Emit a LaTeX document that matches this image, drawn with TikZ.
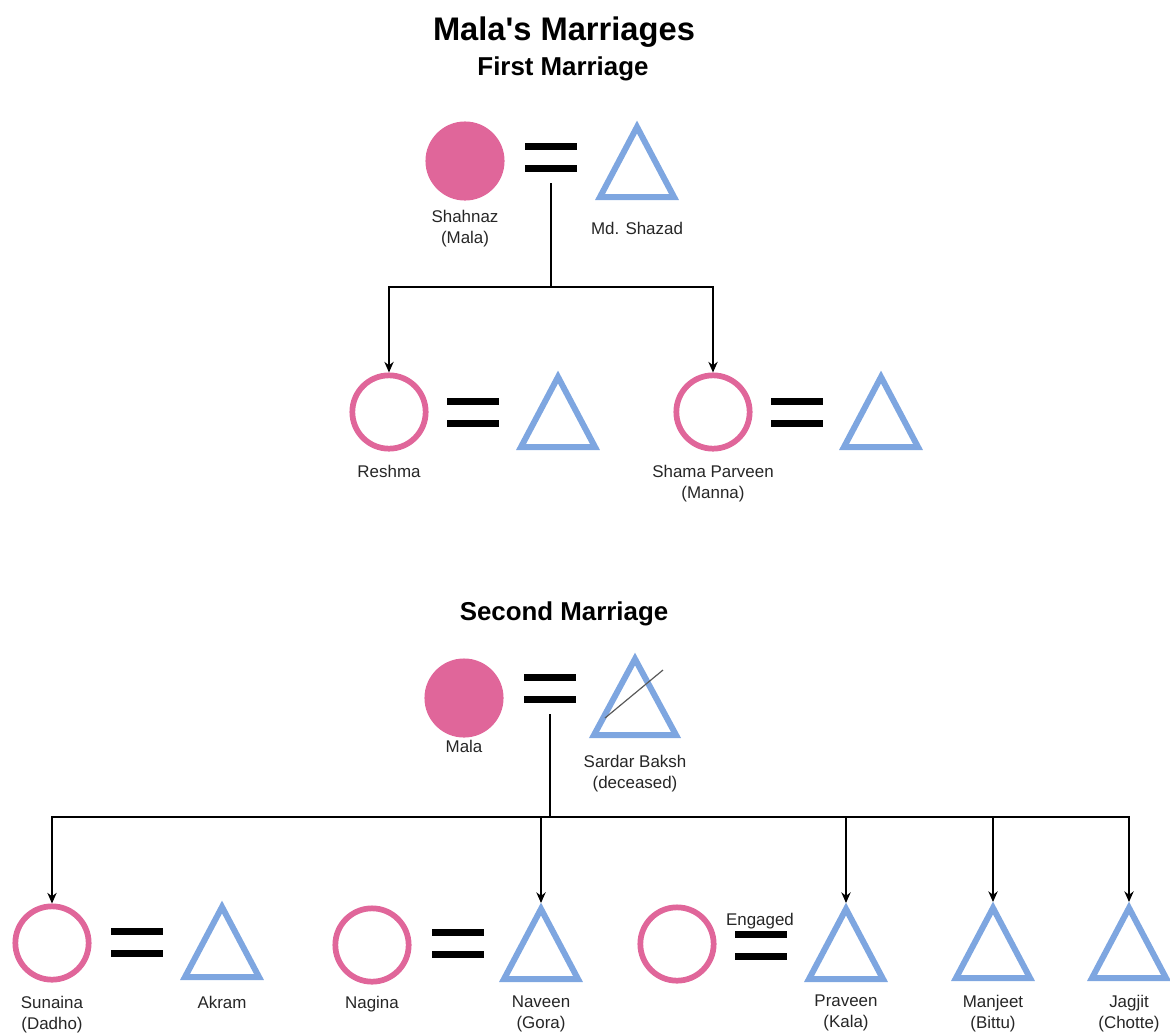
\documentclass[tikz,border=0pt]{standalone}
\usepackage{fontspec}
\setmainfont{Liberation Sans}
\usetikzlibrary{arrows.meta, positioning}

\definecolor{femalepink}{HTML}{E0669A}
\definecolor{maleblue}{HTML}{7EA6E0}

\tikzset{
  female/.style={circle, draw=femalepink, line width=4.3pt, minimum size=55pt, inner sep=0pt},
  wife/.style={female, fill=femalepink},
  male/.style={rectangle, minimum width=55.5pt, minimum height=52.5pt, inner sep=0pt, outer xsep=0pt, outer ysep=4.5pt},
  wed/.style={rectangle, minimum width=39pt, minimum height=16.5pt, inner sep=0pt, outer xsep=0pt, outer ysep=11.5pt},
  who/.style={font=\fontsize{12.7}{15.75}\selectfont, align=center, anchor=north, inner sep=0pt, text=black!85},
  link/.style={-{Stealth[length=8pt,width=7pt]}, line width=1pt},
  bar/.style={line width=5.25pt},
  tri/.style={draw=maleblue, line width=4.5pt, line join=miter},
  slash/.style={draw=black!65, line width=0.9pt}
}

\begin{document}
\begin{tikzpicture}[x=0.75pt, y=-0.75pt]
\useasboundingbox (0,0) rectangle (1170,1032);

\node[font=\bfseries\fontsize{24.5}{29}\selectfont, anchor=base] (title) at (564,40) {Mala\textquotesingle s Marriages};
\node[font=\bfseries\fontsize{19.4}{23}\selectfont, anchor=base] (firstT) at (563,75) {First Marriage};

% first marriage
\node[wife] (shahnaz) at (465,161) {};
\node[wed] (eqA) at (551,157) {};
\node[male] (shazad) at (637,162) {};

\node[female] (reshma) at (389,412) {};
\node[wed] (eqR) at (473,412) {};
\node[male] (husbR) at (558,412) {};

\node[female] (shama) at (713,412) {};
\node[wed] (eqS) at (797,412) {};
\node[male] (husbS) at (881,412) {};

\node[who] (shahnazL) at (465,210) {Shahnaz\\(Mala)};
\node[who] (shazadL) at (637,222) {Md. Shazad};
\node[who] (reshmaL) at (389,465) {Reshma};
\node[who] (shamaL) at (713,465) {Shama Parveen\\(Manna)};

\coordinate (forkA) at (551,287);
\draw[line width=1pt] (eqA.south) -- (forkA);
\draw[link] (forkA) -| (reshma);
\draw[link] (forkA) -| (shama);

% second marriage
\node[font=\bfseries\fontsize{19.4}{23}\selectfont, anchor=base] (secondT) at (564,620) {Second Marriage};

\node[wife] (mala) at (464,698) {};
\node[wed] (eqB) at (550,688) {};
\node[male, minimum width=61.5pt, minimum height=57pt] (sardar) at (635,697) {};

\node[female] (sunaina) at (52,943) {};
\node[wed] (eqSun) at (137,942) {};
\node[male] (akram) at (222,942) {};

\node[female] (nagina) at (372,945) {};
\node[wed] (eqNag) at (458,943) {};
\node[male] (naveen) at (541,944) {};

\node[female] (fiancee) at (677,944) {};
\node[wed] (eqEng) at (761,945) {};
\node[male] (praveen) at (846,944) {};

\node[male] (manjeet) at (993,943) {};
\node[male] (jagjit) at (1129,943) {};

\node[who] (malaL) at (464,740) {Mala};
\node[who] (sardarL) at (635,755) {Sardar Baksh\\(deceased)};
\node[who] (sunainaL) at (52,996) {Sunaina\\(Dadho)};
\node[who] (akramL) at (222,996) {Akram};
\node[who] (naginaL) at (372,996) {Nagina};
\node[who] (naveenL) at (541,996) {Naveen\\(Gora)};
\node[who] (engaged) at (760,913) {Engaged};
\node[who] (praveenL) at (846,995) {Praveen\\(Kala)};
\node[who] (manjeetL) at (993,995) {Manjeet\\(Bittu)};
\node[who] (jagjitL) at (1129,995) {Jagjit\\(Chotte)};

\coordinate (forkB) at (550,817);
\draw[line width=1pt] (eqB.south) -- (forkB);
\foreach \c in {sunaina, naveen, praveen, manjeet, jagjit}
  \draw[link] (forkB) -| (\c);

% equal signs and triangles
\foreach \n in {eqA, eqR, eqS, eqB, eqSun, eqNag, eqEng} {
  \draw[bar] (\n.center) ++(-26,-11) -- ++(52,0);
  \draw[bar] (\n.center) ++(-26,11) -- ++(52,0);
}
\foreach \n in {shazad, husbR, husbS, akram, naveen, praveen, manjeet, jagjit}
  \draw[tri] (\n.center) ++(-37,35) -- ++(37,-70) -- ++(37,70) -- cycle;
\draw[tri] (sardar.center) ++(-41,38) -- ++(41,-76) -- ++(41,76) -- cycle;
\draw[slash] (sardar.center) ++(-30,21) -- ++(58,-48);
\end{tikzpicture}
\end{document}
